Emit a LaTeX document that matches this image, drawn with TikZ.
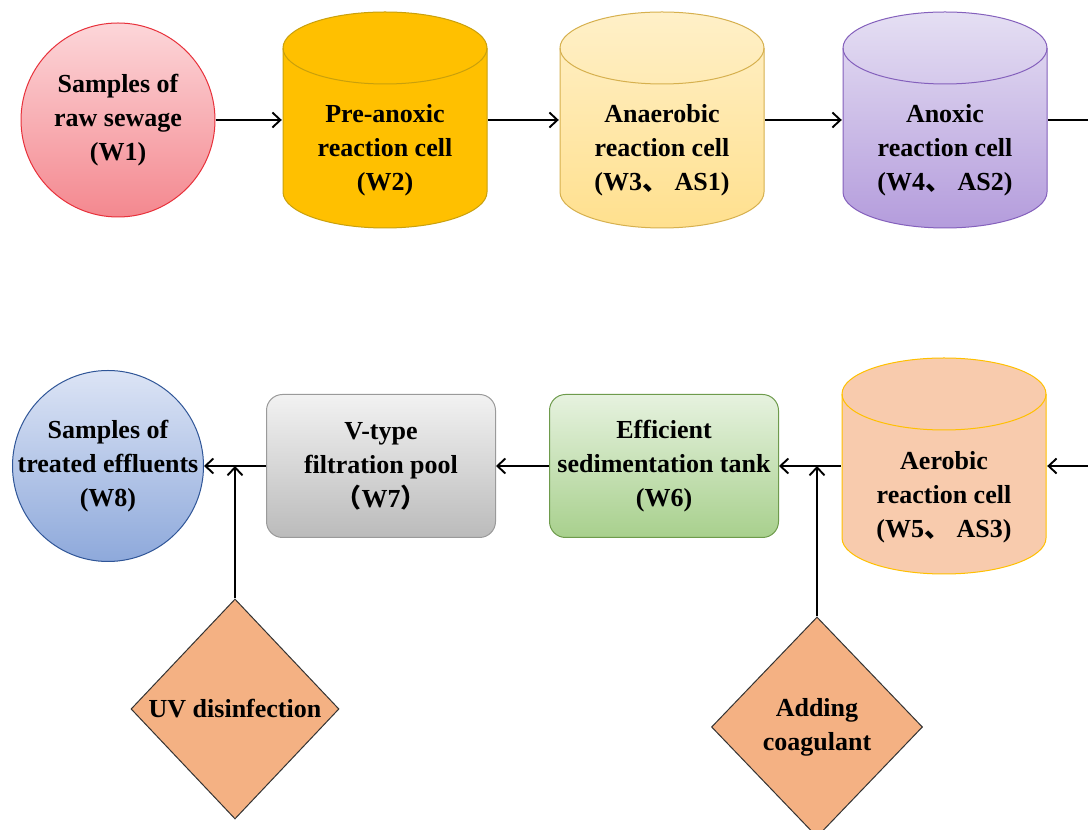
\documentclass[tikz,border=0pt]{standalone}
\usepackage{fontspec}
\setmainfont{Liberation Serif}
\newfontfamily\cjk{Noto Sans CJK SC}
\usepackage{tikz}
\usetikzlibrary{shapes.geometric, arrows.meta}

\definecolor{rawtop}{HTML}{FCD6D9}
\definecolor{rawbot}{HTML}{F4888F}
\definecolor{rawline}{HTML}{E8313B}
\definecolor{preline}{HTML}{C9A00C}
\definecolor{prefill}{HTML}{FFC000}
\definecolor{anatop}{HTML}{FFF0C8}
\definecolor{anabot}{HTML}{FFE08E}
\definecolor{analine}{HTML}{D6B04E}
\definecolor{anoxtop}{HTML}{E5DFF3}
\definecolor{anoxbot}{HTML}{B49CDC}
\definecolor{anoxline}{HTML}{8460BC}
\definecolor{aerofill}{HTML}{F8CBAD}
\definecolor{aeroline}{HTML}{FFC000}
\definecolor{sedtop}{HTML}{E6F2DF}
\definecolor{sedbot}{HTML}{A8D08D}
\definecolor{sedline}{HTML}{6E9B4C}
\definecolor{filttop}{HTML}{F2F2F2}
\definecolor{filtbot}{HTML}{BBBBBB}
\definecolor{filtline}{HTML}{9A9A9A}
\definecolor{outtop}{HTML}{DCE4F5}
\definecolor{outbot}{HTML}{8EA9DB}
\definecolor{outline}{HTML}{2F5597}
\definecolor{dosefill}{HTML}{F4B183}
\definecolor{doseline}{HTML}{333333}

\begin{document}
\begin{tikzpicture}[x=1pt, y=1pt,
                    >={Straight Barb[length=8pt,width=15pt,line width=1.9pt]},
                    txt/.style={align=center, font=\bfseries\fontsize{26}{34}\selectfont},
                    link/.style={->, line width=1.8pt},
                    ball/.style={circle, inner sep=0pt, line width=1pt},
                    box/.style={rectangle, rounded corners=16pt, minimum width=229pt,
                                minimum height=143pt, inner sep=0pt, line width=1pt, txt},
                    dose/.style={diamond, minimum width=208pt, minimum height=220pt,
                                 inner sep=0pt, fill=dosefill, draw=doseline, line width=1pt},
                    tank/.style 2 args={rectangle, minimum width=206pt, minimum height=218pt, inner sep=0pt,
                        path picture={
                            \coordinate (nw) at ([shift={(1pt,-1pt)}]path picture bounding box.north west);
                            \path[#1, line width=1pt] (nw) ++(0,-36) -- ++(0,-144)
                                arc[start angle=180, end angle=360, x radius=102pt, y radius=36pt]
                                -- ++(0,144)
                                arc[start angle=0, end angle=180, x radius=102pt, y radius=36pt] -- cycle;
                            \draw[#2, line width=1pt] (nw) ++(0,-36)
                                arc[start angle=180, end angle=360, x radius=102pt, y radius=36pt];
                        }}]
    \useasboundingbox (0,0) rectangle (1088,830);
    \fill[white] (0,0) rectangle (1088,830);

    % upper row
    \node[ball, top color=rawtop, bottom color=rawbot, draw=rawline, minimum size=194pt,
          label={[txt]center:{Samples of\\raw sewage\\(W1)}}] (w1) at (118,710) {};
    \node[tank={fill=prefill, draw=preline}{preline},
          label={[txt, yshift=-30pt]center:{Pre-anoxic\\reaction cell\\(W2)}}] (w2) at (385,710) {};
    \node[tank={top color=anatop, bottom color=anabot, draw=analine}{analine},
          label={[txt, yshift=-30pt]center:{Anaerobic\\reaction cell\\(W3{\cjk 、} AS1)}}] (w3) at (662,710) {};
    \node[tank={top color=anoxtop, bottom color=anoxbot, draw=anoxline}{anoxline},
          label={[txt, yshift=-30pt]center:{Anoxic\\reaction cell\\(W4{\cjk 、} AS2)}}] (w4) at (945,710) {};

    % lower row
    \node[tank={fill=aerofill, draw=aeroline}{aeroline},
          label={[txt, yshift=-31pt]center:{Aerobic\\reaction cell\\(W5{\cjk 、} AS3)}}] (w5) at (944,364) {};
    \node[box, top color=sedtop, bottom color=sedbot, draw=sedline] (w6) at (664,364)
          {Efficient\\sedimentation tank\\(W6)};
    \node[box, top color=filttop, bottom color=filtbot, draw=filtline] (w7) at (381,364)
          {V-type\\filtration pool\\{\cjk （}W7{\cjk ）}};
    \node[ball, top color=outtop, bottom color=outbot, draw=outline, minimum size=191pt,
          label={[txt]center:{Samples of\\treated effluents\\(W8)}}] (w8) at (108,364) {};

    \node[dose, label={[txt]center:{UV disinfection}}] (uv) at (235,121) {};
    \node[dose, minimum width=211pt, label={[txt]center:{Adding\\coagulant}}] (coag) at (817,103) {};

    \coordinate (loop) at (1130,710);

    \draw[link] (w1) -- (w2);
    \draw[link] (w2) -- (w3);
    \draw[link] (w3) -- (w4);
    \draw[link] (w4) -- (loop) |- (w5);
    \draw[link] (w5) -- (w6);
    \draw[link] (w6) -- (w7);
    \draw[link] (w7) -- (w8);
    \draw[link] (uv) -- (uv |- w8);
    \draw[link] (coag) -- (coag |- w6);
\end{tikzpicture}
\end{document}
